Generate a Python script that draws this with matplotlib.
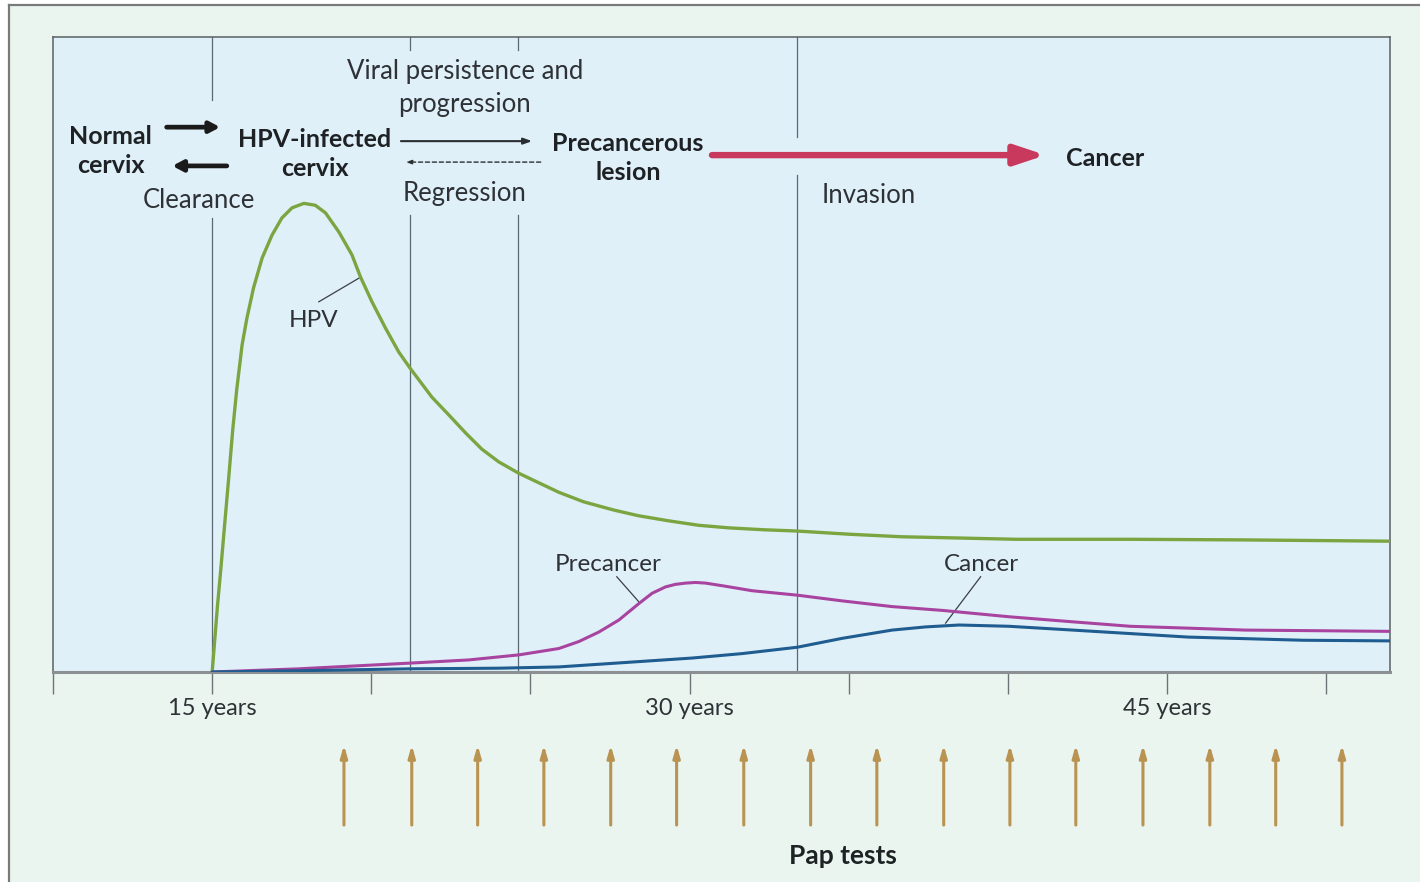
import matplotlib
matplotlib.use("Agg")
import matplotlib.pyplot as plt
from matplotlib.patches import Rectangle
from matplotlib.lines import Line2D

plt.rcParams['font.family'] = ['Lato', 'DejaVu Sans']

# ---------------- data ----------------
hpv_years = [15.00, 15.08, 15.17, 15.27, 15.39, 15.52, 15.64, 15.77, 15.94, 16.09, 16.30,
             16.57, 16.88, 17.19, 17.51, 17.88, 18.24, 18.56, 18.98, 19.39, 19.66, 20.02,
             20.44, 20.86, 21.21, 21.90, 22.43, 22.97, 23.47, 24.00, 24.63, 25.26, 25.89,
             26.67, 27.62, 28.40, 29.35, 30.29, 31.23, 32.33, 33.37, 35.00, 36.64, 38.46,
             40.25, 43.84, 47.45, 51.98]
hpv_vals = [0.0, 5.0, 10.6, 16.1, 23.1, 30.6, 37.8, 44.4, 51.5, 55.7, 60.5,
            65.2, 68.8, 71.5, 73.1, 73.8, 73.5, 72.3, 69.3, 65.7, 62.2, 58.3,
            54.2, 50.4, 47.9, 43.3, 40.5, 37.6, 35.1, 33.1, 31.3, 29.8, 28.3,
            26.8, 25.5, 24.6, 23.8, 23.1, 22.7, 22.4, 22.2, 21.7, 21.3, 21.1,
            20.9, 20.9, 20.8, 20.6]

pre_years = [15.00, 17.72, 21.21, 23.06, 24.64, 25.89, 26.52, 27.15, 27.78, 28.41, 28.82,
             29.24, 29.55, 29.87, 30.18, 30.50, 31.13, 31.96, 33.38, 34.79, 36.36, 37.94,
             40.03, 42.04, 43.84, 45.69, 47.45, 49.77, 51.98]
pre_vals = [0.0, 0.5, 1.4, 1.9, 2.7, 3.7, 4.8, 6.3, 8.2, 10.8, 12.4,
            13.4, 13.8, 14.0, 14.1, 14.0, 13.5, 12.8, 12.1, 11.2, 10.3, 9.7,
            8.7, 7.9, 7.2, 6.9, 6.6, 6.5, 6.4]

can_years = [15.00, 17.72, 21.21, 24.00, 25.89, 27.99, 30.08, 31.65, 33.38, 34.79, 36.36,
             37.41, 38.46, 40.03, 42.04, 45.65, 49.26, 51.98]
can_vals = [0.0, 0.2, 0.5, 0.6, 0.8, 1.5, 2.2, 2.9, 3.9, 5.3, 6.6,
            7.1, 7.4, 7.2, 6.6, 5.5, 5.0, 4.9]

tick_years = [10, 15, 20, 25, 30, 35, 40, 45, 50]
tick_labels = ["", "15 years", "", "", "30 years", "", "", "45 years", ""]

stage_years = [15.0, 21.21, 24.62, 33.37]

pap_years = [19.14, 21.27, 23.34, 25.42, 27.52, 29.59, 31.70, 33.80, 35.88, 37.98,
             40.06, 42.13, 44.24, 46.34, 48.41, 50.49]

# ---------------- styling ----------------
W, H = 1420, 882
fig = plt.figure(figsize=(W / 100, H / 100), dpi=100, facecolor="white")

outer_bg = "#EBF5EF"
plot_bg = "#E0F0F9"
green = "#7BA540"
magenta = "#A8449F"
blue = "#1F5C90"
vline_c = "#5C6872"
txt = "#2E3236"
gold = "#B99352"

# outer panel with frame (top and left edges)
fig.add_artist(Rectangle((9 / W, 0), 1 - 9 / W, 1 - 5 / H, transform=fig.transFigure,
                         facecolor=outer_bg, edgecolor="none", zorder=-10))
fig.add_artist(Line2D([9 / W, 1], [1 - 5 / H, 1 - 5 / H], transform=fig.transFigure,
                      color="#7A7A7A", lw=1.6))
fig.add_artist(Line2D([9 / W, 9 / W], [0, 1 - 5 / H], transform=fig.transFigure,
                      color="#7A7A7A", lw=1.6))

ax = fig.add_axes([53 / W, 210 / H, (1390 - 53) / W, (672 - 37) / H])
ax.set_facecolor(plot_bg)
ax.set_xlim(10, 52)
ax.set_ylim(0, 100)

for s in ["top", "left", "right"]:
    ax.spines[s].set_color("#5A5F63")
    ax.spines[s].set_linewidth(1.1)
ax.spines["bottom"].set_color("#8C9093")
ax.spines["bottom"].set_linewidth(2.2)

ax.set_yticks([])
ax.set_xticks(tick_years)
ax.set_xticklabels(tick_labels, fontsize=17, color=txt)
ax.tick_params(axis="x", direction="out", length=16, width=1.0, color="#6E7377", pad=3)

# stage divider lines with gaps where the text sits
gaps = {15.0: (71.5, 90.1), 21.21: (72.0, 98.0), 24.62: (72.0, 98.0), 33.37: (78.3, 84.3)}
for yr in stage_years:
    lo, hi = gaps[yr]
    ax.plot([yr, yr], [0, lo], color=vline_c, lw=0.9, zorder=1)
    ax.plot([yr, yr], [hi, 100], color=vline_c, lw=0.9, zorder=1)

# curves
ax.plot(hpv_years, hpv_vals, color=green, lw=2.4, zorder=3,
        solid_capstyle="round", solid_joinstyle="round")
ax.plot(pre_years, pre_vals, color=magenta, lw=2.2, zorder=3,
        solid_capstyle="round", solid_joinstyle="round")
ax.plot(can_years, can_vals, color=blue, lw=2.2, zorder=4,
        solid_capstyle="round", solid_joinstyle="round")

# curve labels and leaders
lab_kw = dict(fontsize=17.5, color=txt, ha="center", va="center")
ax.text(18.19, 55.3, "HPV", **lab_kw)
ax.plot([18.35, 19.67], [58.3, 62.2], color="#3A3F44", lw=0.9)
ax.text(27.43, 16.9, "Precancer", **lab_kw)
ax.plot([27.71, 28.43], [15.0, 10.9], color="#3A3F44", lw=0.9)
ax.text(39.15, 16.9, "Cancer", **lab_kw)
ax.plot([39.14, 38.04], [15.0, 7.7], color="#3A3F44", lw=0.9)

# stage texts
bold_kw = dict(fontsize=18, fontweight="bold", color="#1E2225", ha="center", va="center",
               linespacing=1.32)
ax.text(11.81, 82.0, "Normal\ncervix", **bold_kw)
ax.text(18.22, 81.6, "HPV-infected\ncervix", **bold_kw)
ax.text(28.06, 80.9, "Precancerous\nlesion", **bold_kw)
ax.text(43.05, 80.9, "Cancer", **bold_kw)

reg_kw = dict(fontsize=18.5, color=txt, ha="center", va="center")
ax.text(22.94, 92.0, "Viral persistence and\nprogression", linespacing=1.4, **reg_kw)
ax.text(14.58, 74.3, "Clearance", **reg_kw)
ax.text(22.94, 75.4, "Regression", **reg_kw)
ax.text(35.63, 75.1, "Invasion", **reg_kw)

# transition arrows
ax.annotate("", xy=(15.25, 85.8), xytext=(13.57, 85.8),
            arrowprops=dict(arrowstyle="-|>,head_length=0.6,head_width=0.32",
                            color="#1A1A1A", lw=3.4, shrinkA=0, shrinkB=0))
ax.annotate("", xy=(13.75, 79.7), xytext=(15.46, 79.7),
            arrowprops=dict(arrowstyle="-|>,head_length=0.6,head_width=0.32",
                            color="#1A1A1A", lw=3.4, shrinkA=0, shrinkB=0))
ax.annotate("", xy=(25.05, 83.6), xytext=(20.93, 83.6),
            arrowprops=dict(arrowstyle="-|>,head_length=0.5,head_width=0.18",
                            color="#2A2E31", lw=1.5, shrinkA=0, shrinkB=0))
ax.annotate("", xy=(21.08, 80.3), xytext=(25.32, 80.3),
            arrowprops=dict(arrowstyle="-|>,head_length=0.35,head_width=0.12",
                            color="#2A2E31", lw=1.0, linestyle=(0, (3, 2)),
                            shrinkA=0, shrinkB=0))
ax.annotate("", xy=(41.18, 81.4), xytext=(30.70, 81.4),
            arrowprops=dict(arrowstyle="-|>,head_length=1.8,head_width=0.6",
                            color="#C8395D", lw=4.6, shrinkA=0, shrinkB=0))

# Pap test arrows below the axis
for yr in pap_years:
    ax.annotate("", xy=(yr, -11.5), xytext=(yr, -24.1), annotation_clip=False,
                arrowprops=dict(arrowstyle="-|>,head_length=0.7,head_width=0.2",
                                color=gold, lw=2.2, shrinkA=0, shrinkB=0))

fig.text(843 / W, 1 - 856 / H, "Pap tests", fontsize=19, fontweight="bold", color="#1E2225",
         ha="center", va="center")

fig.savefig("out.png", dpi=100, facecolor=fig.get_facecolor())
